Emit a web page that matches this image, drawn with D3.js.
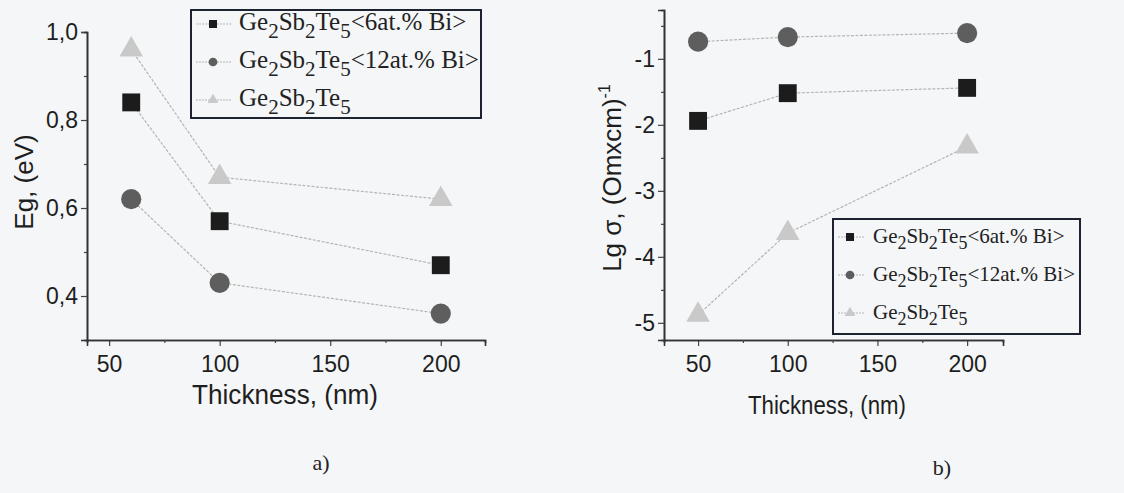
<!DOCTYPE html>
<html>
<head>
<meta charset="utf-8">
<script src="https://cdn.jsdelivr.net/npm/d3@7"></script>
<style>
  body { margin: 0; background: #f4f6f7; }
  svg { display: block; }
</style>
</head>
<body>
<div id="chart"></div>
<script>
// panel a) band gap vs thickness
var thicknessA = [60, 100, 200];
var egBi6 = [0.84, 0.57, 0.47];
var egBi12 = [0.62, 0.43, 0.36];
var egPure = [0.96, 0.67, 0.62];

// panel b) log conductivity vs thickness
var thicknessB = [50, 100, 200];
var lgBi6 = [-1.94, -1.52, -1.44];
var lgBi12 = [-0.74, -0.67, -0.61];
var lgPure = [-4.88, -3.64, -2.33];

var xTicks = [50, 100, 150, 200];
var xMinor = [75, 125, 175];
var egTicks = [0.4, 0.6, 0.8, 1.0];
var egMinor = [0.5, 0.7, 0.9];
var lgTicks = [-5, -4, -3, -2, -1];
var lgMinor = [-4.5, -3.5, -2.5, -1.5, -0.5];

var legendNames = ["<6at.% Bi>", "<12at.% Bi>", ""];

var W = 1124, H = 493;
var svg = d3.select("#chart").append("svg")
    .attr("width", W)
    .attr("height", H);

var sans = "'Liberation Sans', Arial, sans-serif";
var serif = "'Liberation Serif', 'Times New Roman', serif";

var styles = [
    {type: d3.symbolSquare, size: 320, fill: "#1c1c1c", legSize: 64},
    {type: d3.symbolCircle, size: 320, fill: "#5e5e5e", legSize: 60},
    {type: d3.symbolTriangle, size: 240, fill: "#c9c9c9", legSize: 50}
];

function commaFmt(d) {
    return d3.format(".1f")(d).replace(".", ",");
}
function hyphenFmt(d) {
    return String(d);
}

function drawPanel(p) {
    var x = d3.scaleLinear().domain(p.xDomain).range([p.left, p.right]);
    var y = d3.scaleLinear().domain(p.yDomain).range([p.bottom, p.top]);
    var g = svg.append("g");

    // axes
    g.append("g")
        .attr("transform", "translate(0," + p.bottom + ")")
        .call(d3.axisBottom(x).tickValues(xTicks).tickSize(6).tickPadding(10));
    g.append("g")
        .attr("transform", "translate(0," + p.bottom + ")")
        .call(d3.axisBottom(x).tickValues(xMinor).tickSize(3).tickFormat(""));
    g.append("g")
        .attr("transform", "translate(" + p.left + ",0)")
        .call(d3.axisLeft(y).tickValues(p.yTicks).tickSize(6).tickPadding(3).tickFormat(p.yFormat));
    g.append("g")
        .attr("transform", "translate(" + p.left + ",0)")
        .call(d3.axisLeft(y).tickValues(p.yMinor).tickSize(3).tickFormat(""));

    g.selectAll(".domain").attr("stroke", "#333").attr("stroke-width", 1.6);
    g.selectAll(".tick line").attr("stroke", "#444").attr("stroke-width", 1.2);
    g.selectAll(".tick text")
        .attr("fill", "#1e1e1e")
        .style("font-family", sans)
        .style("font-size", "23px");

    // series
    p.series.forEach(function (vals, i) {
        var pts = p.xs.map(function (d, j) { return [x(d), y(vals[j])]; });
        g.append("path")
            .attr("d", d3.line()(pts))
            .attr("fill", "none")
            .attr("stroke", "#b5b5b5")
            .attr("stroke-width", 1.2)
            .attr("stroke-dasharray", "3,1.5");
        g.selectAll(null)
            .data(pts)
            .enter().append("path")
            .attr("transform", function (d) { return "translate(" + d[0] + "," + d[1] + ")"; })
            .attr("d", d3.symbol().type(styles[i].type).size(styles[i].size))
            .attr("fill", styles[i].fill);
    });

    // axis titles
    g.append("text")
        .attr("x", p.xLabelX)
        .attr("y", p.xLabelY)
        .attr("text-anchor", "middle")
        .attr("textLength", p.xLabelLen)
        .attr("lengthAdjust", "spacingAndGlyphs")
        .style("font-family", sans)
        .style("font-size", p.xLabelSize + "px")
        .attr("fill", "#1e1e1e")
        .text("Thickness, (nm)");

    var yl = g.append("text")
        .attr("transform", "translate(" + p.yLabelX + "," + p.yLabelY + ") rotate(-90)")
        .attr("text-anchor", "middle")
        .style("font-family", sans)
        .style("font-size", "26px")
        .attr("fill", "#1e1e1e");
    p.yLabel(yl);

    // legend
    var fs = p.legFont, sub = Math.round(fs * 0.85), drop = Math.round(fs * 0.3);
    var lg = g.append("g").attr("transform", "translate(" + p.legX + "," + p.legY + ")");
    lg.append("rect")
        .attr("width", p.legW)
        .attr("height", p.legH)
        .attr("fill", "none")
        .attr("stroke", "#1d2230")
        .attr("stroke-width", 2);
    legendNames.forEach(function (name, i) {
        var cy = p.legRow0 + i * p.legStep;
        lg.append("line")
            .attr("x1", 5).attr("x2", p.legText - 8)
            .attr("y1", cy).attr("y2", cy)
            .attr("stroke", "#b5b5b5")
            .attr("stroke-width", 1)
            .attr("stroke-dasharray", "2,1");
        lg.append("path")
            .attr("transform", "translate(" + p.legMark + "," + cy + ")")
            .attr("d", d3.symbol().type(styles[i].type).size(styles[i].legSize))
            .attr("fill", styles[i].fill);
        var t = lg.append("text")
            .attr("x", p.legText)
            .attr("y", cy + 6)
            .style("font-family", serif)
            .style("font-size", fs + "px")
            .attr("fill", "#222");
        t.append("tspan").text("Ge");
        t.append("tspan").attr("dy", drop).style("font-size", sub + "px").text("2");
        t.append("tspan").attr("dy", -drop).text("Sb");
        t.append("tspan").attr("dy", drop).style("font-size", sub + "px").text("2");
        t.append("tspan").attr("dy", -drop).text("Te");
        t.append("tspan").attr("dy", drop).style("font-size", sub + "px").text("5");
        if (name) t.append("tspan").attr("dy", -drop).text(name);
    });

    // panel letter
    g.append("text")
        .attr("x", p.tagX)
        .attr("y", p.tagY)
        .attr("text-anchor", "middle")
        .style("font-family", serif)
        .style("font-size", "22px")
        .attr("fill", "#222")
        .text(p.tag);
}

drawPanel({
    xDomain: [40, 220], yDomain: [0.3, 1.0],
    left: 87, right: 485, top: 32, bottom: 340,
    xs: thicknessA, series: [egBi6, egBi12, egPure],
    yTicks: egTicks, yMinor: egMinor, yFormat: commaFmt,
    xLabelX: 285, xLabelY: 404, xLabelLen: 186, xLabelSize: 28,
    yLabelX: 33, yLabelY: 182,
    yLabel: function (t) { t.text("Eg, (eV)"); },
    legX: 191, legY: 10, legW: 290, legH: 108, legRow0: 14, legStep: 38,
    legFont: 25, legMark: 22, legText: 48,
    tag: "a)", tagX: 321, tagY: 470
});

drawPanel({
    xDomain: [31, 220], yDomain: [-5.26, -0.26],
    left: 664, right: 1003, top: 10, bottom: 340,
    xs: thicknessB, series: [lgBi6, lgBi12, lgPure],
    yTicks: lgTicks, yMinor: lgMinor, yFormat: hyphenFmt,
    xLabelX: 827, xLabelY: 414, xLabelLen: 158, xLabelSize: 26,
    yLabelX: 621, yLabelY: 178,
    yLabel: function (t) {
        t.append("tspan").text("Lg \u03c3, (Omxcm)");
        t.append("tspan").attr("dy", -11).style("font-size", "16px").text("-1");
    },
    legX: 833, legY: 219, legW: 247, legH: 115, legRow0: 18, legStep: 38,
    legFont: 21, legMark: 17, legText: 40,
    tag: "b)", tagX: 942, tagY: 475
});
</script>
</body>
</html>
